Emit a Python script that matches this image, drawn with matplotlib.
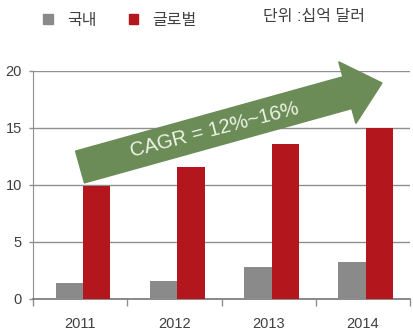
import matplotlib
matplotlib.use("Agg")
import matplotlib.pyplot as plt
import matplotlib.patches as mpatches
import numpy as np

plt.rcParams['font.family'] = ['Liberation Sans', 'Noto Sans CJK KR', 'DejaVu Sans']

years = ['2011', '2012', '2013', '2014']
domestic = [1.35, 1.55, 2.8, 3.2]
global_ = [9.85, 11.55, 13.6, 15.0]
legend_labels = ['국내', '글로벌']
unit_label = '단위 :십억 달러'
cagr_label = 'CAGR = 12%~16%'

gray = '#8a8a8a'
red = '#b3161d'
green = '#6b8c57'
grid_c = '#8f8f8f'
txt_c = '#404040'

fig = plt.figure(figsize=(4.13, 3.34), dpi=100)
ax = fig.add_axes([0.080, 0.106, 0.913, 0.682])

x = np.arange(len(years))
w = 0.29
ax.bar(x - w / 2 + 0.03, domestic, w, color=gray, zorder=3, label=legend_labels[0])
ax.bar(x + w / 2 + 0.03, global_, w, color=red, zorder=3, label=legend_labels[1])

ax.set_xlim(-0.5, 3.5)
ax.set_ylim(0, 20)
ax.set_yticks([0, 5, 10, 15, 20])
ax.yaxis.grid(True, color=grid_c, linewidth=1.0, zorder=0)
ax.set_axisbelow(True)
ax.set_xticks(x)
ax.set_xticklabels(years)
ax.set_xticks(np.arange(-0.5, 4, 1), minor=True)
ax.tick_params(axis='x', which='major', length=0, pad=13, labelsize=10.5, labelcolor=txt_c)
ax.tick_params(axis='x', which='minor', length=5, width=1, color=grid_c, direction='out')
ax.tick_params(axis='y', length=3, width=1, color=grid_c, pad=5, labelsize=10.5, labelcolor=txt_c)
for s in ['top', 'right']:
    ax.spines[s].set_visible(False)
ax.spines['left'].set_color(grid_c)
ax.spines['bottom'].set_color('#777777')
ax.spines['bottom'].set_linewidth(1.2)

# growth arrow, drawn in inches so the angle is not distorted
tail = (0.80, 1.67)
tip = (3.82, 2.51)
dx, dy = tip[0] - tail[0], tip[1] - tail[1]
arrow = mpatches.FancyArrow(tail[0], tail[1], dx, dy, width=0.33, head_width=0.64,
                            head_length=0.36, length_includes_head=True,
                            color=green, transform=fig.dpi_scale_trans, zorder=5)
fig.patches.append(arrow)
fig.text(215 / 413, (334 - 130) / 334, cagr_label, rotation=14.5,
         ha='center', va='center', color='#eef3e6', fontsize=14.5,
         rotation_mode='anchor', zorder=6)

handles = [mpatches.Patch(color=gray), mpatches.Patch(color=red)]
fig.legend(handles, legend_labels, loc='upper left', bbox_to_anchor=(0.07, 1.005),
           ncol=2, frameon=False, fontsize=11.5, handlelength=0.6, handleheight=0.6,
           columnspacing=2.0, handletextpad=0.9, labelcolor=txt_c)
fig.text(0.637, 0.950, unit_label, fontsize=11.5, color=txt_c, va='center')

fig.savefig('out.png', dpi=100)
